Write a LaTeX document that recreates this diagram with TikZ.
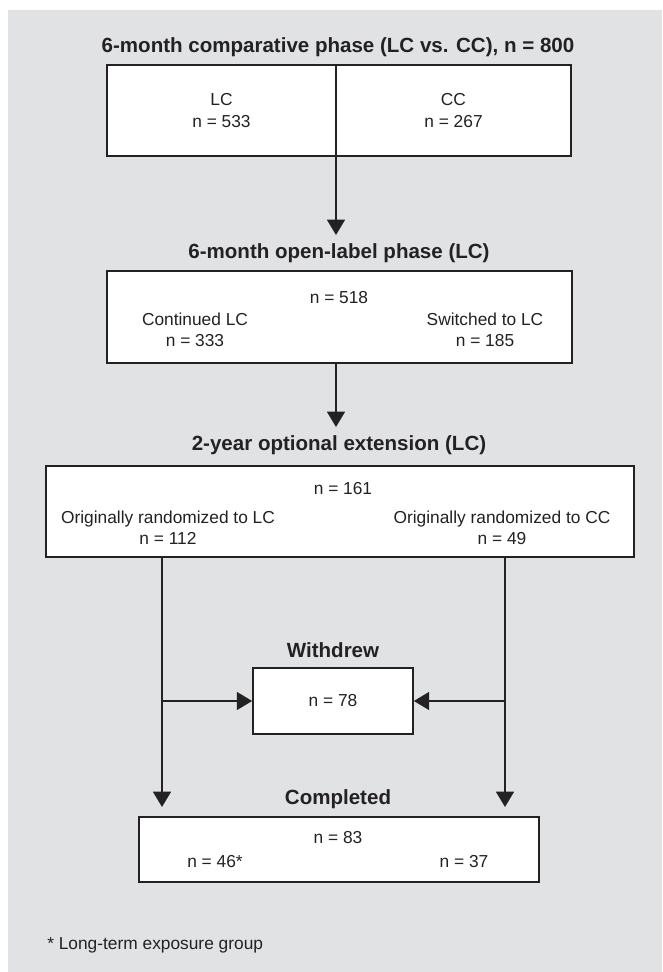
\documentclass[tikz,border=0pt]{standalone}
\usepackage{fontspec}
\setmainfont{Liberation Sans}
\usetikzlibrary{arrows.meta}
\definecolor{panel}{RGB}{225,226,228}
\definecolor{ink}{RGB}{35,33,34}

\begin{document}
\begin{tikzpicture}
  [x=0.75pt,y=-0.75pt,
   every node/.style={text=ink,font=\fontsize{13}{16}\selectfont,align=center,inner sep=0pt},
   box/.style={draw=ink,fill=white,line width=1.3pt},
   head/.style={anchor=base,font=\fontsize{15.4}{18}\selectfont\bfseries},
   arr/.style={draw=ink,line width=1.1pt,-{Triangle[length=11.5pt,width=13.5pt]}}]
\useasboundingbox (0,0) rectangle (662,972);
\fill[panel] (8,10) rectangle (662,972);

\node[head] (t1) at (338,52) {6-month comparative phase (LC vs. CC), n = 800};
\node[box,minimum width=171.75pt,minimum height=68.25pt] (lcbox) at (221.5,110.5) {LC\\n = 533};
\node[box,minimum width=176.25pt,minimum height=68.25pt] (ccbox) at (453.5,110.5) {CC\\n = 267};

\node[head] (t2) at (339,258) {6-month open-label phase (LC)};
\node[box,minimum width=348.75pt,minimum height=69pt] (open) at (339.5,317) {};
\node (n518) at (339,297.5) {n = 518};
\node (cont) at (195,329.5) {Continued LC\\n = 333};
\node (swit) at (485,329.5) {Switched to LC\\n = 185};

\node[head] (t3) at (339,450) {2-year optional extension (LC)};
\node[box,minimum width=441pt,minimum height=68.25pt] (ext) at (340,511.5) {};
\node (n161) at (343,489) {n = 161};
\node (orlc) at (168,528) {Originally randomized to LC\\n = 112};
\node (orcc) at (502,528) {Originally randomized to CC\\n = 49};

\node[head] (t4) at (333,657) {Withdrew};
\node[box,minimum width=120pt,minimum height=49.5pt] (wd) at (333,701) {n = 78};

\node[head] (t5) at (338,804) {Completed};
\node[box,minimum width=300pt,minimum height=48.75pt] (done) at (339,849.5) {};
\node (n83) at (338,838) {n = 83};
\node (n46) at (215,862) {n = 46*};
\node (n37) at (464,862) {n = 37};

\node[anchor=base west] (note) at (47,949) {* Long-term exposure group};

\coordinate (tip1) at (336,235);
\coordinate (tip2) at (336,427);
\coordinate (l1) at (162,807);
\coordinate (r1) at (505,807);
\coordinate (lm) at (162,701);
\coordinate (rm) at (505,701);

\draw[arr] (lcbox.south -| tip1) -- (tip1);
\draw[arr] (open.south -| tip2) -- (tip2);
\draw[arr] (ext.south -| l1) -- (l1);
\draw[arr] (ext.south -| r1) -- (r1);
\draw[arr] (lm) -- (wd.west);
\draw[arr] (rm) -- (wd.east);
\end{tikzpicture}
\end{document}
